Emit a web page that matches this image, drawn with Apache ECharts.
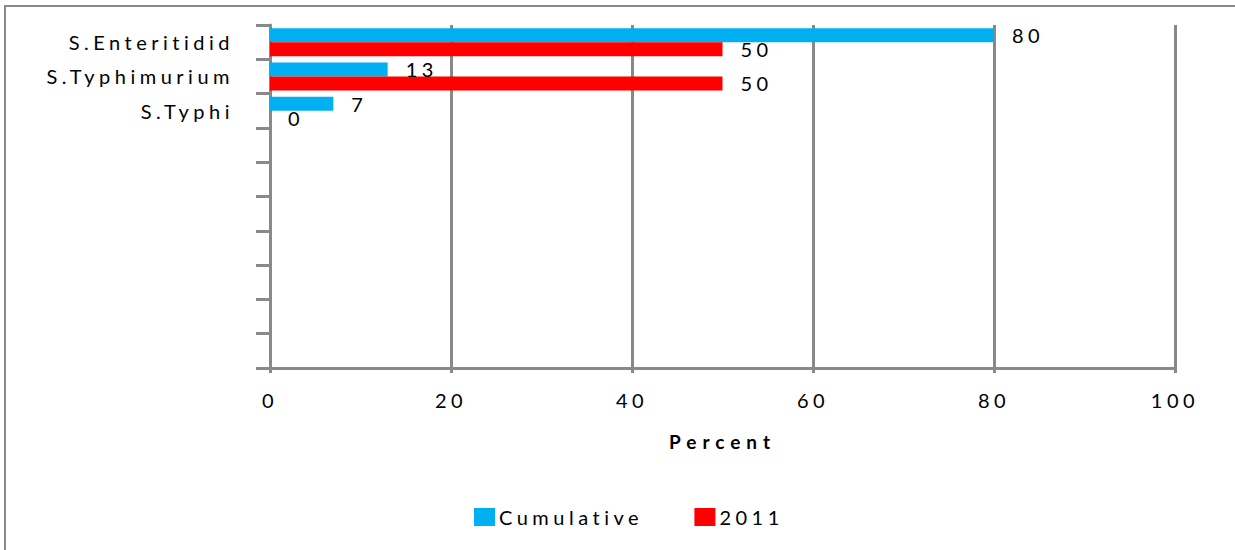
<!DOCTYPE html>
<html>
<head>
<meta charset="utf-8">
<script src="https://cdn.jsdelivr.net/npm/echarts@6/dist/echarts.min.js"></script>
<style>
	html, body { margin: 0; padding: 0; background: #fff; }
	#chart { width: 1235px; height: 550px; }
	/* the source chart has widely spaced glyphs */
	#chart text { letter-spacing: 4.5px; }
	#chart text[style*="bold"] { letter-spacing: 6px; }
</style>
</head>
<body>
<div id="chart"></div>
<script>
// categories (10 slots on the axis, only the first three are used)
const serotypes = ['S.Enteritidid', 'S.Typhimurium', 'S.Typhi', '', '', '', '', '', '', ''];
const seriesNames = ['Cumulative', '2011'];
const cumulativeValues = [80, 13, 7];
const year2011Values = [50, 50, 0];
const percentTicks = [0, 20, 40, 60, 80, 100];

const gridColor = '#898989';
const font = 'Lato';
const fontSize = 20;

const chart = echarts.init(document.getElementById('chart'), null, { renderer: 'svg' });

const barLabel = {
	show: true,
	position: 'right',
	distance: 18,
	color: '#000',
	fontFamily: font,
	fontSize: fontSize
};

chart.setOption({
	backgroundColor: '#fff',
	animation: false,
	graphic: [{
		type: 'rect',
		shape: { x: 5, y: 6, width: 1300, height: 600 },
		style: { fill: 'none', stroke: gridColor, lineWidth: 2 },
		silent: true
	}],
	grid: {
		left: 270,
		right: 60,
		top: 25,
		bottom: 182
	},
	xAxis: {
		type: 'value',
		min: percentTicks[0],
		max: percentTicks[percentTicks.length - 1],
		interval: 20,
		name: 'Percent',
		nameLocation: 'middle',
		nameGap: 64,
		nameTextStyle: {
			color: '#000',
			fontFamily: font,
			fontSize: 19,
			fontWeight: 'bold'
		},
		axisLine: { show: true, lineStyle: { color: gridColor, width: 3 } },
		axisTick: { show: true, length: 5, lineStyle: { color: gridColor, width: 3 } },
		splitLine: { show: true, lineStyle: { color: gridColor, width: 3 } },
		axisLabel: {
			margin: 22,
			color: '#000',
			fontFamily: font,
			fontSize: fontSize
		}
	},
	yAxis: {
		type: 'category',
		inverse: true,
		data: serotypes,
		axisLine: { show: true, lineStyle: { color: gridColor, width: 3 } },
		axisTick: { show: true, length: 14, lineStyle: { color: gridColor, width: 3 } },
		axisLabel: {
			margin: 36,
			interval: 0,
			color: '#000',
			fontFamily: font,
			fontSize: fontSize
		}
	},
	legend: {
		data: seriesNames,
		left: 474,
		top: 507,
		padding: 0,
		itemWidth: 21,
		itemHeight: 18,
		itemGap: 96,
		icon: 'rect',
		textStyle: {
			color: '#000',
			fontFamily: font,
			fontSize: fontSize,
			padding: [0, 0, 0, -1]
		}
	},
	series: [{
		name: seriesNames[0],
		type: 'bar',
		data: cumulativeValues,
		barWidth: 14,
		barGap: '0%',
		itemStyle: { color: '#00b0f0' },
		label: barLabel
	}, {
		name: seriesNames[1],
		type: 'bar',
		data: year2011Values,
		barWidth: 14,
		barGap: '0%',
		itemStyle: { color: '#ff0000' },
		label: barLabel
	}]
});
</script>
</body>
</html>
